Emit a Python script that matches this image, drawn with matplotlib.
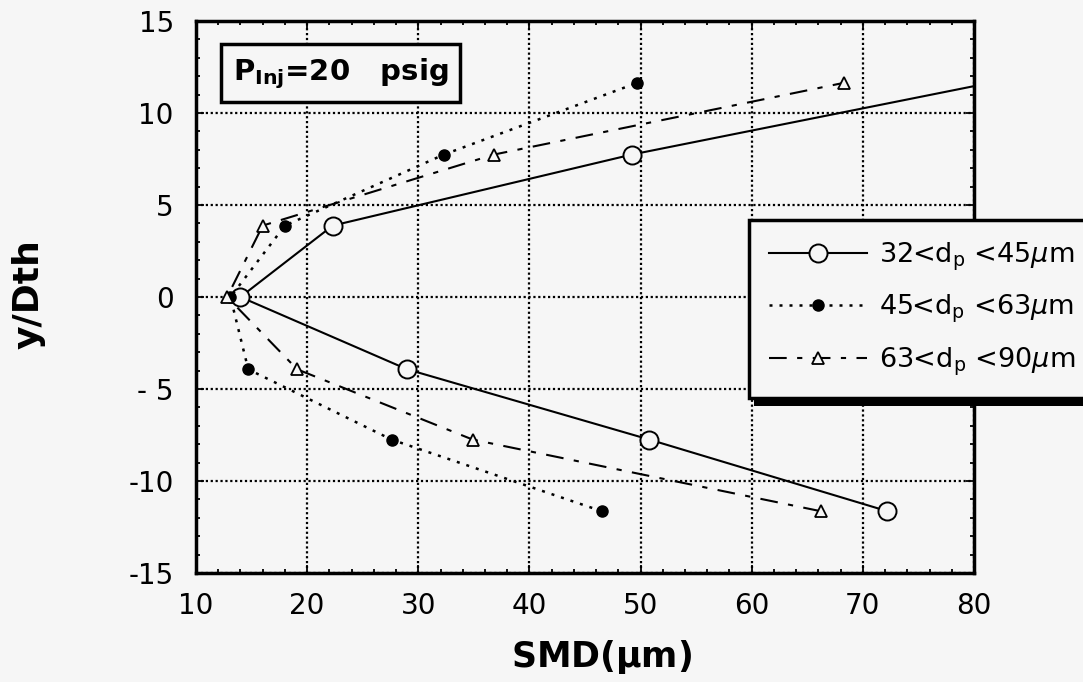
import matplotlib
matplotlib.use("Agg")
import matplotlib.pyplot as plt
from matplotlib.ticker import MultipleLocator
from matplotlib.patches import Rectangle

plt.rcParams['font.family'] = ['DejaVu Sans']
plt.rcParams['mathtext.fontset'] = 'dejavusans'

# SMD vs y/Dth for three particle size classes (P_inj = 20 psig)
y_pos = [-11.64, -7.75, -3.93, 0.0, 3.88, 7.74, 11.64]

smd_32_45 = [72.2, 50.8, 29.0, 14.0, 22.3, 49.2]
y_32_45 = [-11.64, -7.75, -3.93, 0.0, 3.88, 7.74]
# solid curve keeps going past the last point up to the frame
smd_32_45_end = 80.0
y_32_45_end = 11.46

smd_45_63 = [46.5, 27.6, 14.7, 13.1, 18.0, 32.3, 49.7]
smd_63_90 = [66.2, 34.9, 19.1, 12.8, 16.0, 36.8, 68.3]

labels = [r"32<d$_{\rm p}$ <45$\mu$m", r"45<d$_{\rm p}$ <63$\mu$m", r"63<d$_{\rm p}$ <90$\mu$m"]
xticks = [10, 20, 30, 40, 50, 60, 70, 80]
yticks = [-15, -10, -5, 0, 5, 10, 15]
ytick_labels = ['-15', '-10', '- 5', '0', '5', '10', '15']

bg = '#f6f6f6'
fig = plt.figure(figsize=(10.83, 6.82), dpi=100, facecolor=bg)
ax = fig.add_axes([196 / 1083, 1 - 573 / 682, (974 - 196) / 1083, (573 - 21) / 682])
ax.set_facecolor(bg)

ax.grid(True, which='major', color='black', linestyle=(0, (1, 1.2)), linewidth=1.6)
ax.set_axisbelow(True)

ax.plot(smd_32_45 + [smd_32_45_end], y_32_45 + [y_32_45_end], color='black', lw=1.5,
        marker='o', markersize=13, markerfacecolor=bg, markeredgewidth=1.4,
        markevery=list(range(len(smd_32_45))), label=labels[0], zorder=3)
ax.plot(smd_45_63, y_pos, color='black', lw=1.8, linestyle=(0, (1.2, 2.8)),
        marker='o', markersize=8, markerfacecolor='black', label=labels[1], zorder=3)
ax.plot(smd_63_90, y_pos, color='black', lw=1.5, linestyle=(0, (8.5, 5, 2.5, 5)),
        marker='^', markersize=9, markerfacecolor=bg, markeredgewidth=1.3,
        label=labels[2], zorder=3)

ax.set_xlim(10, 80)
ax.set_ylim(-15, 15)
ax.set_xticks(xticks)
ax.set_yticks(yticks)
ax.set_yticklabels(ytick_labels)
ax.xaxis.set_minor_locator(MultipleLocator(2))
ax.yaxis.set_minor_locator(MultipleLocator(1))
ax.tick_params(which='both', direction='in', top=True, right=True, width=1.3)
ax.tick_params(which='major', length=6, labelsize=20)
ax.tick_params(axis='x', which='major', pad=14)
ax.tick_params(axis='y', which='major', pad=16)
ax.tick_params(which='minor', length=3)
for s in ax.spines.values():
    s.set_linewidth(2.5)

ax.set_xlabel(r"SMD($\mathbf{\mu}$m)", fontsize=25, fontweight='bold')
ax.xaxis.set_label_coords((601 - 196) / 778, -(638 - 573) / 552)
ax.set_ylabel("y/Dth", fontsize=26, fontweight='bold')
ax.yaxis.set_label_coords(-(196 - 46) / 778, (573 - 294) / 552)

ax.text(0.047, 0.905, r"P$_{\mathbf{Inj}}$=20   psig", transform=ax.transAxes,
        fontsize=21, fontweight='bold', va='center', ha='left',
        bbox=dict(boxstyle='square,pad=0.4', facecolor=bg, edgecolor='black', linewidth=2.5))

leg = fig.legend(loc='upper left', bbox_to_anchor=(749 / 1083, 1 - 220 / 682),
                 fontsize=19.5, handlelength=3.6, labelspacing=0.75, borderaxespad=0,
                 fancybox=False, framealpha=1, facecolor=bg, edgecolor='black',
                 borderpad=0.75, handletextpad=0.45)
leg.get_frame().set_linewidth(2.5)
leg.set_zorder(5)

fig.canvas.draw()
bb = leg.get_window_extent().transformed(fig.transFigure.inverted())
fig.patches.append(Rectangle((bb.x0 + 0.005, bb.y0 - 0.011), 1.0, 0.011,
                             transform=fig.transFigure, facecolor='black',
                             edgecolor='none', zorder=4))

fig.savefig("out.png", dpi=100, facecolor=bg)
